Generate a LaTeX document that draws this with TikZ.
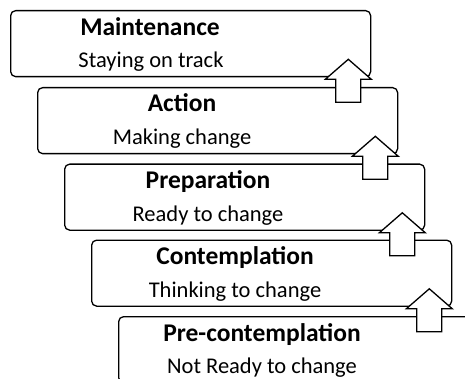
\documentclass[tikz,border=0pt]{standalone}
\usepackage{fontspec}
\setmainfont{Carlito}
\usetikzlibrary{calc}

\tikzset{
  stagebox/.style={draw=black, line width=1.3pt, rounded corners=5pt, rectangle,
    minimum width=360pt, minimum height=66pt, inner sep=0pt, anchor=north west},
  stagetitle/.style={anchor=base, inner sep=0pt, font=\fontsize{25.5}{30}\selectfont\bfseries},
  stagesub/.style={anchor=base, inner sep=0pt, font=\fontsize{22.5}{27}\selectfont},
  stagearrow/.style={draw=black, line width=1.3pt, fill=white, line join=miter}
}

\begin{document}
\begin{tikzpicture}[x=1pt, y=-1pt]
  \clip (0,0) rectangle (465,379);
  \fill[white] (0,0) rectangle (465,379);
  % the five stages, top to bottom
  \node[stagebox] (main) at (10,10) {};
  \node[stagebox] (act)  at (37,87) {};
  \node[stagebox] (prep) at (64,163.5) {};
  \node[stagebox] (cont) at (91,239.5) {};
  \node[stagebox] (pre)  at (118,316) {};
  % labels
  \node[stagetitle] (maint) at ([shift={(140,26)}]main.north west) {Maintenance};
  \node[stagesub]   (maints) at ([shift={(141,58)}]main.north west) {Staying on track};
  \node[stagetitle] (actt) at ([shift={(145,25)}]act.north west) {Action};
  \node[stagesub]   (acts) at ([shift={(145,58)}]act.north west) {Making change};
  \node[stagetitle] (prept) at ([shift={(144,25)}]prep.north west) {Preparation};
  \node[stagesub]   (preps) at ([shift={(144,58.5)}]prep.north west) {Ready to change};
  \node[stagetitle] (contt) at ([shift={(144,25)}]cont.north west) {Contemplation};
  \node[stagesub]   (conts) at ([shift={(144,58)}]cont.north west) {Thinking to change};
  \node[stagetitle] (pret) at ([shift={(144,25)}]pre.north west) {Pre-contemplation};
  \node[stagesub]   (pres) at ([shift={(144,57)}]pre.north west) {Not Ready to change};
  % up arrows between stages
  \foreach \s in {main,act,prep,cont} {
    \draw[stagearrow] ([shift={(-23,-18)}]\s.south east) -- ++(23,20) -- ++(-10.5,0)
      -- ++(0,23) -- ++(-25,0) -- ++(0,-23) -- ++(-10.5,0) -- cycle;
  }
\end{tikzpicture}
\end{document}
